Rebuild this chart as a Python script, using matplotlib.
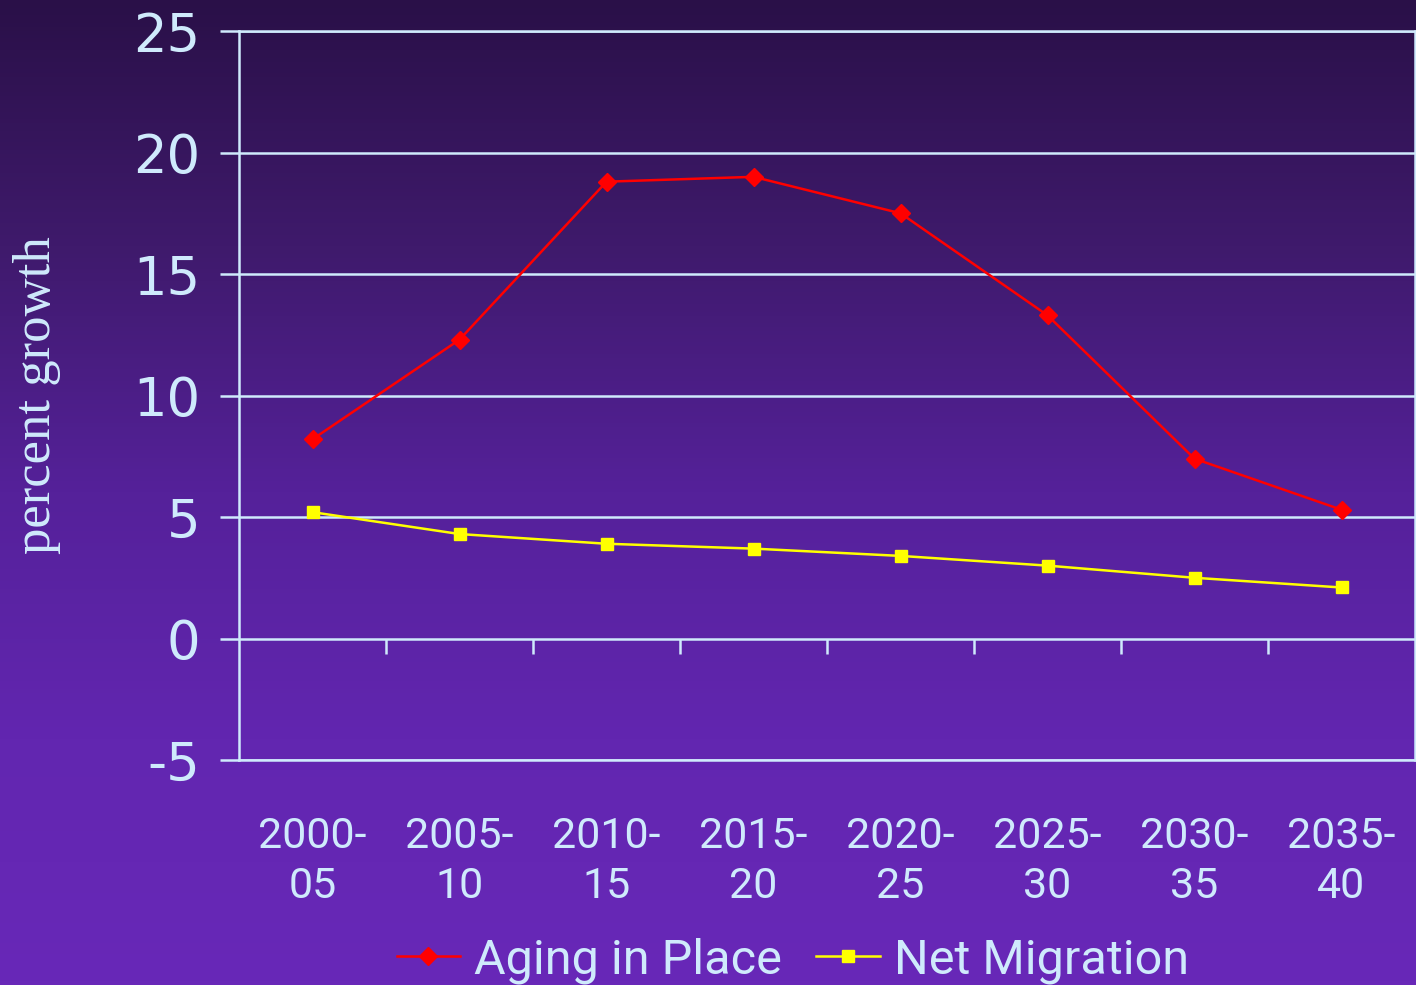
import numpy as np
import matplotlib
matplotlib.use("Agg")
import matplotlib.pyplot as plt
from matplotlib.colors import LinearSegmentedColormap

plt.rcParams["axes.unicode_minus"] = False

periods = ["2000-\n05", "2005-\n10", "2010-\n15", "2015-\n20",
           "2020-\n25", "2025-\n30", "2030-\n35", "2035-\n40"]
aging_in_place = [8.2, 12.3, 18.8, 19.0, 17.5, 13.3, 7.4, 5.3]
net_migration = [5.2, 4.3, 3.9, 3.7, 3.4, 3.0, 2.5, 2.1]
yticks = [-5, 0, 5, 10, 15, 20, 25]

fg = "#cfeafc"

fig = plt.figure(figsize=(14.16, 9.85), dpi=100)

# background gradient, dark purple on top to lighter violet at the bottom
bg = fig.add_axes([0, 0, 1, 1], zorder=-10)
cmap = LinearSegmentedColormap.from_list(
    "bg", ["#2a1048", "#3f1a6c", "#55219a", "#6226b0", "#6828b8"])
bg.imshow(np.linspace(0, 1, 256).reshape(-1, 1), aspect="auto", cmap=cmap,
          extent=[0, 1, 0, 1])
bg.axis("off")

ax = fig.add_axes([0.1688, 0.2284, 0.8305, 0.7401])
ax.patch.set_alpha(0)

x = np.arange(len(periods))
ax.plot(x, aging_in_place, color="#ff0000", lw=1.8, marker="D", ms=9.5,
        label="Aging in Place", zorder=4)
ax.plot(x, net_migration, color="#ffff00", lw=1.8, marker="s", ms=9,
        label="Net Migration", zorder=4)

ax.set_xlim(-0.5, len(periods) - 0.5)
ax.set_ylim(-5, 25)
ax.set_yticks(yticks)
ax.yaxis.grid(True, color=fg, lw=1.8)
ax.set_axisbelow(True)
for s in ax.spines.values():
    s.set_color(fg)
    s.set_linewidth(1.8)

# category boundary ticks hang below the zero line
ax.vlines(x[:-1] + 0.5, -0.62, 0, color=fg, lw=1.8)

ax.set_xticks(x)
ax.set_xticklabels(periods, linespacing=1.3, family="Roboto")
ax.tick_params(axis="x", length=0, pad=40, labelsize=31, labelcolor=fg)
ax.tick_params(axis="y", length=14, width=1.8, color=fg, pad=14,
               labelsize=38, labelcolor=fg)

ax.set_ylabel("percent growth", family="Liberation Serif", fontsize=38,
              color=fg, labelpad=52)

leg = fig.legend(loc="lower center", bbox_to_anchor=(0.56, -0.043), ncol=2,
                 frameon=False, handlelength=1.3, handletextpad=0.3,
                 columnspacing=0.7,
                 prop={"family": "Roboto", "size": 35})
for t in leg.get_texts():
    t.set_color(fg)

fig.savefig("out.png", dpi=100)
